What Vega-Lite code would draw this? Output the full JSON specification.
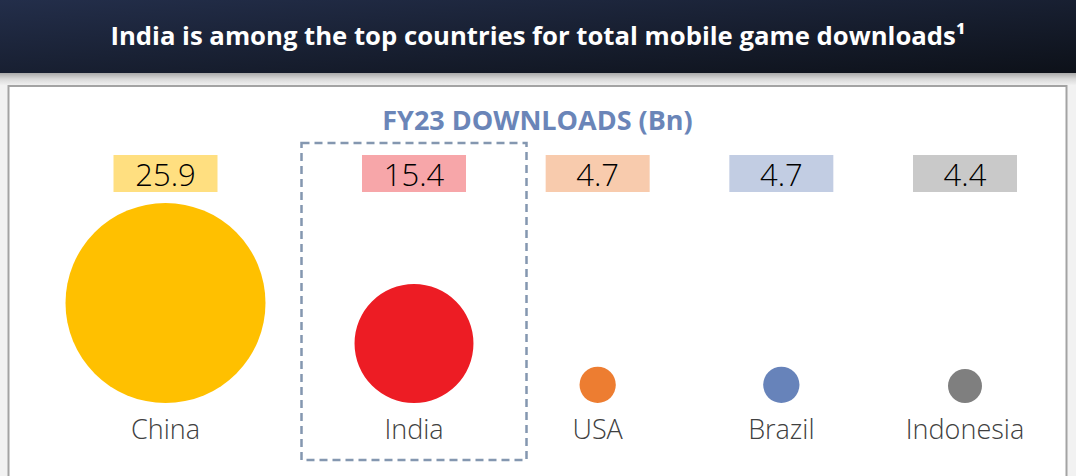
{
  "$schema": "https://vega.github.io/schema/vega-lite/v6.json",
  "padding": 0,
  "background": "#f2f2f2",
  "spacing": 0,
  "center": true,
  "config": {"view": {"stroke": null}},
  "vconcat": [
    {
      "width": 1076,
      "height": 73,
      "view": {
        "fill": {"gradient": "linear", "x1": 0, "y1": 0, "x2": 1, "y2": 1, "stops": [{"offset": 0, "color": "#232e4a"}, {"offset": 1, "color": "#0d1119"}]},
        "stroke": null
      },
      "data": {"values": [{"headline": "India is among the top countries for total mobile game downloads¹"}]},
      "mark": {"type": "text", "font": "Open Sans", "fontWeight": "bold", "fontSize": 25.7, "color": "#ffffff", "baseline": "middle", "align": "center"},
      "encoding": {"text": {"field": "headline"}}
    },
    {
      "width": 1076,
      "height": 12,
      "view": {
        "fill": {"gradient": "linear", "x1": 0, "y1": 0, "x2": 0, "y2": 1, "stops": [{"offset": 0, "color": "#a9a9a9"}, {"offset": 0.5, "color": "#d9d9d9"}, {"offset": 1, "color": "#f0f0f0"}]},
        "stroke": null
      },
      "data": {"values": [{"blank": ""}]},
      "mark": {"type": "text"},
      "encoding": {"text": {"field": "blank"}}
    },
    {
      "width": 1058,
      "height": 400,
      "view": {"fill": "#ffffff", "stroke": "#a3a3a3", "strokeWidth": 2},
      "data": {
        "values": [
          {"country": "China", "rank": 1, "downloads": 25.9},
          {"country": "India", "rank": 2, "downloads": 15.4},
          {"country": "USA", "rank": 3, "downloads": 4.7},
          {"country": "Brazil", "rank": 4, "downloads": 4.7},
          {"country": "Indonesia", "rank": 5, "downloads": 4.4}
        ]
      },
      "layer": [
        {
          "transform": [{"filter": "datum.country === 'India'"}],
          "mark": {"type": "bar", "width": 225, "fillOpacity": 0, "stroke": "#8497b0", "strokeWidth": 2.5, "strokeDash": [8, 5]},
          "encoding": {
            "x": {"field": "rank", "type": "quantitative", "scale": {"domain": [1, 2, 5], "range": [157, 405.5, 956.5], "nice": false, "zero": false, "padding": 0}, "axis": null},
            "y": {"datum": 67.34, "type": "quantitative", "scale": {"domain": [0, 25.9], "range": [317, 217], "nice": false, "zero": false, "padding": 0}, "axis": null},
            "y2": {"datum": -14.76}
          }
        },
        {
          "mark": {"type": "bar", "width": 104},
          "encoding": {
            "x": {"field": "rank", "type": "quantitative", "scale": {"domain": [1, 2, 5], "range": [157, 405.5, 956.5], "nice": false, "zero": false, "padding": 0}, "axis": null},
            "y": {"datum": 64.23, "type": "quantitative", "scale": {"domain": [0, 25.9], "range": [317, 217], "nice": false, "zero": false, "padding": 0}, "axis": null},
            "y2": {"datum": 54.65},
            "fill": {"field": "country", "type": "nominal", "scale": {"domain": ["China", "India", "USA", "Brazil", "Indonesia"], "range": ["#ffdf80", "#f7a6a9", "#f8cbad", "#c2cde3", "#c9c9c9"]}, "legend": null}
          }
        },
        {
          "mark": {"type": "text", "font": "Open Sans", "fontSize": 31, "fontWeight": 300, "color": "#000000", "baseline": "alphabetic", "align": "center"},
          "encoding": {
            "x": {"field": "rank", "type": "quantitative", "scale": {"domain": [1, 2, 5], "range": [157, 405.5, 956.5], "nice": false, "zero": false, "padding": 0}, "axis": null},
            "y": {"datum": 56.33, "type": "quantitative", "scale": {"domain": [0, 25.9], "range": [317, 217], "nice": false, "zero": false, "padding": 0}, "axis": null},
            "text": {"field": "downloads", "type": "quantitative", "format": ".1f"}
          }
        },
        {
          "mark": {"type": "circle", "opacity": 1},
          "encoding": {
            "x": {"field": "rank", "type": "quantitative", "scale": {"domain": [1, 2, 5], "range": [157, 405.5, 956.5], "nice": false, "zero": false, "padding": 0}, "axis": null},
            "y": {"field": "downloads", "type": "quantitative", "scale": {"domain": [0, 25.9], "range": [317, 217], "nice": false, "zero": false, "padding": 0}, "axis": null},
            "size": {"field": "downloads", "type": "quantitative", "scale": {"type": "pow", "exponent": 2, "domain": [0, 25.9], "range": [0, 40000]}, "legend": null},
            "color": {"field": "country", "type": "nominal", "scale": {"domain": ["China", "India", "USA", "Brazil", "Indonesia"], "range": ["#ffc000", "#ed1c24", "#ed7d31", "#6783ba", "#7f7f7f"]}, "legend": null}
          }
        },
        {
          "mark": {"type": "text", "font": "Open Sans", "fontSize": 27, "fontWeight": 300, "color": "#404040", "baseline": "alphabetic", "align": "center"},
          "encoding": {
            "x": {"field": "rank", "type": "quantitative", "scale": {"domain": [1, 2, 5], "range": [157, 405.5, 956.5], "nice": false, "zero": false, "padding": 0}, "axis": null},
            "y": {"datum": -9.32, "type": "quantitative", "scale": {"domain": [0, 25.9], "range": [317, 217], "nice": false, "zero": false, "padding": 0}, "axis": null},
            "text": {"field": "country", "type": "nominal"}
          }
        },
        {
          "data": {"values": [{"subtitle": "FY23 DOWNLOADS (Bn)"}]},
          "mark": {"type": "text", "font": "Open Sans", "fontSize": 27, "fontWeight": "bold", "color": "#6a85b8", "baseline": "alphabetic", "align": "center"},
          "encoding": {
            "y": {"datum": 70.7, "type": "quantitative", "scale": {"domain": [0, 25.9], "range": [317, 217], "nice": false, "zero": false, "padding": 0}, "axis": null},
            "text": {"field": "subtitle", "type": "nominal"}
          }
        }
      ]
    }
  ]
}
